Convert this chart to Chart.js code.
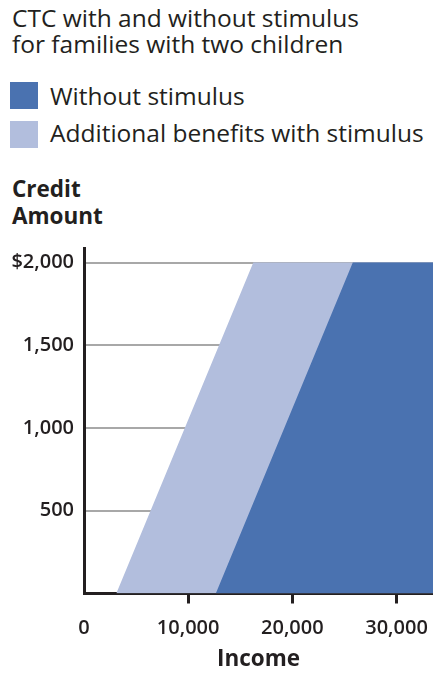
<!DOCTYPE html>
<html>
<head>
<meta charset="utf-8">
<script src="https://cdn.jsdelivr.net/npm/chart.js@4"></script>
<style>
  html, body { margin: 0; padding: 0; background: #fff; }
  body { width: 433px; height: 673px; position: relative; overflow: hidden;
         font-family: "Open Sans", sans-serif; color: #231f20; }
  .t { position: absolute; left: 12px; font-size: 24.5px; line-height: 24.5px; white-space: nowrap; }
  .b { font-weight: 700; font-size: 22.5px; line-height: 22.5px; }
  .sw { position: absolute; left: 10px; width: 28px; height: 27px; }
  #wrap { position: absolute; left: 0; top: 240px; width: 433px; height: 433px; }
</style>
</head>
<body>
<div class="t" style="top:6px">CTC with and without stimulus</div>
<div class="t" style="top:32px">for families with two children</div>
<div class="sw" style="top:82px;background:#4a72b0"></div>
<div class="t" style="top:84px;left:50px">Without stimulus</div>
<div class="sw" style="top:121px;background:#b2bedd"></div>
<div class="t" style="top:121px;left:50px">Additional benefits with stimulus</div>
<div class="t b" style="top:178px">Credit</div>
<div class="t b" style="top:205px">Amount</div>
<div id="wrap"><canvas id="c"></canvas></div>
<script>
// income / credit pairs
const incomeWithout = [0, 12650, 25800, 33500];
const creditWithout = [0, 0, 2000, 2000];
const incomeWith = [0, 3100, 16250, 33500];
const creditWith = [0, 0, 2000, 2000];
const xTicks = [0, 10000, 20000, 30000];
const yTicks = [0, 500, 1000, 1500, 2000];

const ink = '#231f20';
const pts = (xs, ys) => xs.map((x, i) => ({ x: x, y: ys[i] }));
const tickFont = { family: 'Open Sans', size: 20, weight: '600' };

new Chart(document.getElementById('c'), {
  type: 'line',
  data: {
    datasets: [
      { label: 'Without stimulus', data: pts(incomeWithout, creditWithout),
        backgroundColor: '#4a72b0', fill: 'origin', borderWidth: 0, pointRadius: 0 },
      { label: 'Additional benefits with stimulus', data: pts(incomeWith, creditWith),
        backgroundColor: '#b2bedd', fill: 'origin', borderWidth: 0, pointRadius: 0 }
    ]
  },
  options: {
    responsive: true,
    maintainAspectRatio: false,
    animation: false,
    layout: { padding: { top: 8, left: 0, right: 0, bottom: 0 } },
    plugins: { legend: { display: false }, tooltip: { enabled: false } },
    scales: {
      x: {
        type: 'linear', min: 0, max: 33500, z: 1,
        afterBuildTicks: s => { s.ticks = xTicks.map(v => ({ value: v })); },
        afterFit: s => { s.height = 79.5; s.paddingLeft = 0; s.paddingRight = 0; },
        border: { display: true, color: ink, width: 3 },
        grid: {
          drawOnChartArea: false, drawTicks: true, tickLength: 10, tickWidth: 3,
          tickColor: ctx => (ctx.tick && ctx.tick.value === 0) ? 'rgba(0,0,0,0)' : ink
        },
        ticks: {
          color: ink, padding: 13, maxRotation: 0, font: tickFont,
          callback: v => v.toLocaleString('en-US')
        },
        title: {
          display: true, text: 'Income', color: ink, padding: { top: 0, bottom: 0 },
          font: { family: 'Open Sans', size: 22.5, weight: 'bold' }
        }
      },
      y: {
        type: 'linear', min: 0, max: 2088,
        afterBuildTicks: s => { s.ticks = yTicks.map(v => ({ value: v })); },
        afterFit: s => { s.width = 84; s.paddingTop = 0; s.paddingBottom = 0; },
        border: { display: true, color: ink, width: 3 },
        grid: {
          drawTicks: false, lineWidth: 2,
          color: ctx => (ctx.tick && ctx.tick.value === 0) ? 'rgba(0,0,0,0)' : '#a8a8a8'
        },
        ticks: {
          color: ink, padding: 10, font: tickFont,
          callback: v => v === 0 ? '' : (v === 2000 ? '$' : '') + v.toLocaleString('en-US')
        }
      }
    }
  }
});
</script>
</body>
</html>
